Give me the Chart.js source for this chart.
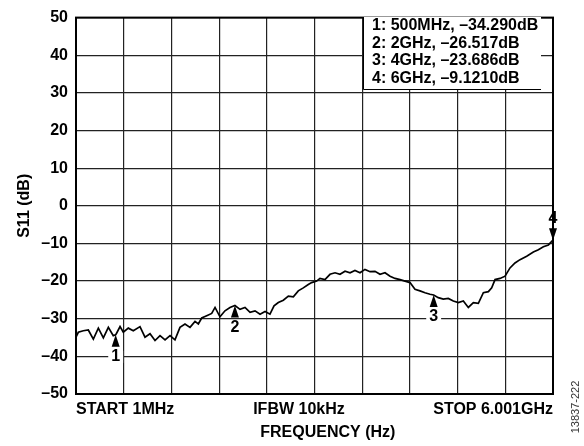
<!DOCTYPE html>
<html>
<head>
<meta charset="utf-8">
<script src="https://cdn.jsdelivr.net/npm/chart.js@4.4.1/dist/chart.umd.min.js"></script>
<style>
  html, body { margin: 0; padding: 0; background: #fff; }
  #wrap { width: 584px; height: 446px; position: relative; }
</style>
</head>
<body>
<div id="wrap"><canvas id="chart" width="584" height="446"></canvas></div>
<script>
// trace (MHz, dB)
var freqMHz = [1, 30, 93, 156, 219, 282, 345, 408, 470, 500, 513, 555, 596, 659, 722, 806, 869, 932, 995, 1058,
  1121, 1184, 1246, 1309, 1372, 1435, 1498, 1540, 1582, 1645, 1708, 1750, 1812, 1875, 1938, 2000, 2064, 2127, 2190, 2253,
  2316, 2379, 2441, 2492, 2546, 2609, 2672, 2735, 2797, 2860, 2923, 2965, 3028, 3070, 3133, 3196, 3259, 3322, 3385, 3448,
  3510, 3573, 3636, 3699, 3762, 3825, 3888, 3951, 4014, 4077, 4140, 4202, 4265, 4328, 4391, 4454, 4500, 4558, 4621, 4684,
  4747, 4810, 4873, 4936, 4999, 5062, 5125, 5188, 5230, 5272, 5335, 5398, 5460, 5523, 5586, 5670, 5754, 5817, 5880, 5943, 6001];
var s11dB = [-34.9, -33.6, -33.2, -33.0, -35.4, -32.5, -35.1, -32.3, -34.5, -34.3, -33.8, -32.1, -33.6, -32.5, -33.2, -32.1, -34.9, -34.0, -35.8, -34.5,
  -35.6, -34.5, -35.6, -32.3, -31.4, -32.3, -30.7, -31.4, -29.8, -29.2, -28.6, -27.0, -29.5, -27.9, -27.0, -26.5, -27.5, -27.0, -28.3, -27.9,
  -28.8, -28.1, -28.8, -26.6, -25.7, -25.1, -24.0, -24.2, -22.6, -21.8, -20.9, -20.4, -20.0, -19.3, -19.6, -18.2, -17.8, -18.2, -17.4, -17.8,
  -17.2, -17.8, -16.9, -17.5, -17.4, -18.2, -17.8, -18.7, -19.3, -19.6, -20.0, -20.4, -22.2, -22.6, -23.1, -23.5, -23.7, -24.4, -24.8, -24.6,
  -25.3, -25.7, -25.3, -27.0, -25.7, -25.9, -23.1, -22.8, -21.8, -19.6, -19.3, -18.7, -16.5, -15.2, -14.3, -13.4, -12.3, -11.7, -10.9, -10.4, -9.1];

// markers
var markerNames = ['1', '2', '3', '4'];
var markerFreq = [500, 2000, 4500, 6001];
var markerDb = [-34.29, -26.517, -23.686, -9.121];
var markerUp = [true, true, true, false];
var markerText = ['1: 500MHz, \u201334.290dB', '2: 2GHz, \u201326.517dB', '3: 4GHz, \u201323.686dB', '4: 6GHz, \u20139.1210dB'];

// axes
var startMHz = 1, stopMHz = 6001, divisions = 10;
var xTickLabels = ['START 1MHz', '', '', '', '', 'IFBW 10kHz       ', '', '', '', '', 'STOP 6.001GHz'];
var yMin = -50, yMax = 50, yStep = 10;

var FONT = 'Arial, "Liberation Sans", Helvetica, sans-serif';

var points = freqMHz.map(function (f, i) { return { x: f, y: s11dB[i] }; });

var extras = {
    id: 'extras',
    afterDraw: function (chart) {
        var ctx = chart.ctx;
        var xs = chart.scales.x, ys = chart.scales.y;
        var a = chart.chartArea;
        ctx.save();
        // frame
        ctx.strokeStyle = '#000';
        ctx.lineWidth = 2;
        ctx.strokeRect(a.left, a.top, a.right - a.left, a.bottom - a.top);

        // markers
        ctx.font = 'bold 16px ' + FONT;
        ctx.textAlign = 'center';
        ctx.textBaseline = 'middle';
        for (var i = 0; i < markerNames.length; i++) {
            var px = xs.getPixelForValue(markerFreq[i]);
            var py = ys.getPixelForValue(markerDb[i]);
            var d = markerUp[i] ? 1 : -1;
            ctx.fillStyle = '#000';
            ctx.beginPath();
            ctx.moveTo(px, py);
            ctx.lineTo(px - 4, py + d * 12);
            ctx.lineTo(px + 4, py + d * 12);
            ctx.closePath();
            ctx.fill();
            var ty = py + d * 22;
            if (markerUp[i]) {
                var w = ctx.measureText(markerNames[i]).width;
                ctx.fillStyle = '#fff';
                ctx.fillRect(px - w / 2 - 3, ty - 6, w + 6, 12);
            }
            ctx.fillStyle = '#000';
            ctx.fillText(markerNames[i], px, ty);
        }

        // marker readout box
        var bx = 363, by = 17, bw = 178, bh = 72;
        ctx.fillStyle = '#fff';
        ctx.fillRect(bx, by, bw, bh);
        ctx.strokeStyle = '#000';
        ctx.lineWidth = 1;
        ctx.beginPath();
        ctx.moveTo(bx + 0.5, by);
        ctx.lineTo(bx + 0.5, by + bh + 0.5);
        ctx.lineTo(bx + bw, by + bh + 0.5);
        ctx.stroke();
        ctx.fillStyle = '#000';
        ctx.textAlign = 'left';
        for (var j = 0; j < markerText.length; j++) {
            ctx.fillText(markerText[j], bx + 9, by + 9 + j * 17.5);
        }

        // figure number
        ctx.font = '11px ' + FONT;
        ctx.fillStyle = '#333';
        ctx.translate(576, 407);
        ctx.rotate(-Math.PI / 2);
        ctx.textAlign = 'center';
        ctx.fillText('13837-222', 0, 0);
        ctx.restore();
    }
};

new Chart(document.getElementById('chart'), {
    type: 'line',
    data: {
        datasets: [{
            data: points,
            borderColor: '#000',
            borderWidth: 1.7,
            pointRadius: 0,
            tension: 0,
            fill: false
        }]
    },
    options: {
        responsive: false,
        animation: false,
        layout: { padding: { top: 14, right: 31, left: 0, bottom: 0 } },
        plugins: { legend: { display: false }, tooltip: { enabled: false } },
        scales: {
            x: {
                type: 'linear',
                min: startMHz,
                max: stopMHz,
                afterBuildTicks: function (scale) {
                    var t = [];
                    for (var k = 0; k <= divisions; k++) {
                        t.push({ value: startMHz + k * (stopMHz - startMHz) / divisions });
                    }
                    scale.ticks = t;
                },
                afterFit: function (scale) { scale.height = 52; },
                grid: { color: '#222', lineWidth: 1.2, drawTicks: false },
                border: { display: false },
                ticks: {
                    autoSkip: false,
                    maxRotation: 0,
                    align: 'inner',
                    padding: 6,
                    color: '#000',
                    font: { family: FONT, size: 16, weight: 'bold' },
                    callback: function (v, i) { return xTickLabels[i]; }
                },
                title: {
                    display: true,
                    text: '      FREQUENCY (Hz)',
                    color: '#000',
                    font: { family: FONT, size: 16, weight: 'bold' },
                    padding: { top: 0, bottom: 4 }
                }
            },
            y: {
                min: yMin,
                max: yMax,
                afterFit: function (scale) { scale.width = 76; },
                grid: { color: '#222', lineWidth: 1.2, drawTicks: false },
                border: { display: false },
                ticks: {
                    stepSize: yStep,
                    padding: 8,
                    color: '#000',
                    font: { family: FONT, size: 16, weight: 'bold' },
                    callback: function (v) { return String(v).replace('-', '\u2013'); }
                },
                title: {
                    display: true,
                    text: 'S11 (dB)',
                    color: '#000',
                    font: { family: FONT, size: 16, weight: 'bold' },
                    padding: { top: 15, bottom: 0 }
                }
            }
        }
    },
    plugins: [extras]
});
</script>
</body>
</html>
